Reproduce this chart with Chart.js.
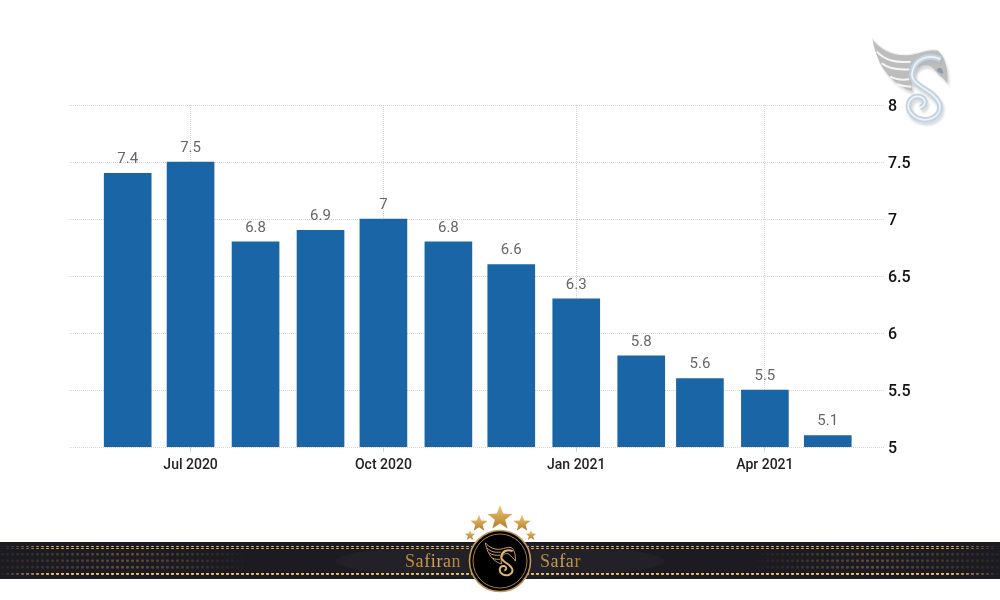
<!DOCTYPE html>
<html>
<head>
<meta charset="utf-8">
<style>
html,body{margin:0;padding:0;background:#fff;width:1000px;height:600px;overflow:hidden}
#wrap{position:relative;width:1000px;height:600px}
canvas#c{position:absolute;left:0;top:0}
svg#deco{position:absolute;left:0;top:0;pointer-events:none}
</style>
<script src="https://cdn.jsdelivr.net/npm/chart.js@4/dist/chart.umd.min.js"></script>
</head>
<body>
<div id="wrap">
<canvas id="c" width="1000" height="600"></canvas>
<svg id="deco" width="1000" height="600" viewBox="0 0 1000 600" xmlns="http://www.w3.org/2000/svg">
<defs>
<linearGradient id="fade" x1="0" x2="1" y1="0" y2="0">
<stop offset="0" stop-color="#000"/><stop offset="0.05" stop-color="#fff"/>
<stop offset="0.95" stop-color="#fff"/><stop offset="1" stop-color="#000"/>
</linearGradient>
<linearGradient id="fadeInner" x1="0" x2="1" y1="0" y2="0">
<stop offset="0" stop-color="#111"/><stop offset="0.13" stop-color="#666"/><stop offset="0.25" stop-color="#000"/>
<stop offset="0.75" stop-color="#000"/><stop offset="0.87" stop-color="#666"/><stop offset="1" stop-color="#111"/>
</linearGradient>
<mask id="mOuter"><rect x="0" y="540" width="1000" height="45" fill="url(#fade)"/></mask>
<mask id="mInner"><rect x="0" y="540" width="1000" height="45" fill="url(#fadeInner)"/></mask>
<pattern id="dots" x="0" y="0" width="5" height="4" patternUnits="userSpaceOnUse">
<rect x="1" y="0" width="3" height="3" rx="1" fill="#f2bd6b"/>
</pattern>
<pattern id="dotsIn" x="0" y="553" width="5" height="6.5" patternUnits="userSpaceOnUse">
<rect x="1" y="0" width="3" height="2.5" rx="1" fill="#d9a865"/>
</pattern>
<linearGradient id="gold" x1="0" x2="0" y1="0" y2="1">
<stop offset="0" stop-color="#f2c874"/><stop offset="1" stop-color="#b07d2c"/>
</linearGradient>
<linearGradient id="txtGold" x1="0" x2="1" y1="0" y2="0">
<stop offset="0" stop-color="#b5853c"/><stop offset="0.6" stop-color="#d8a656"/><stop offset="1" stop-color="#a87a34"/>
</linearGradient>
<filter id="soft" x="-30%" y="-30%" width="160%" height="160%"><feGaussianBlur stdDeviation="3"/></filter>
<g id="wing">
<path d="M97 55C125 90 165 108 210 103C240 99 268 84 290 90C312 100 327 150 322 192C312 170 296 168 286 152C272 132 245 130 228 150C215 168 213 195 218 214C180 205 140 170 118 125C108 102 100 78 97 55Z"/>
</g>
<g id="ess">
<path fill="none" d="M302 118C262 100 222 118 216 160C212 200 282 208 298 250C310 292 258 312 224 290C190 265 206 224 240 230C258 236 260 256 240 263"/>
</g>
</defs>

<!-- top right emblem -->
<g transform="translate(840 20) scale(.3333)">
<use href="#wing" fill="#999" opacity=".35" filter="url(#soft)" transform="translate(6 10)"/>
<use href="#wing" fill="#bdbdbd"/>
<path d="M110 95C140 125 170 128 212 125M125 130C150 150 180 150 208 148M150 170C170 180 190 180 208 178M170 192C185 198 200 200 214 200" fill="none" stroke="#f6f6f6" stroke-width="6"/>
<path d="M97 55C125 90 165 108 210 103C240 99 268 84 290 90" fill="none" stroke="#eef2f5" stroke-width="4"/>
<use href="#ess" stroke="#aab4bd" stroke-width="20" opacity=".45" filter="url(#soft)" transform="translate(4 8)"/>
<use href="#ess" stroke="#c4d3df" stroke-width="17"/>
<use href="#ess" stroke="#eef3f7" stroke-width="5"/>
<path d="M290 150C298 138 308 142 310 160C302 162 296 158 290 150Z" fill="#8e9aa3"/>
</g>

<!-- band -->
<rect x="0" y="542" width="1000" height="37" fill="#1b1b21"/>
<ellipse cx="500" cy="561" rx="165" ry="17" fill="#212127"/>
<g mask="url(#mOuter)">
<rect x="0" y="546" width="1000" height="3" fill="url(#dots)"/>
<rect x="0" y="573" width="1000" height="3" fill="url(#dots)"/>
</g>
<g mask="url(#mInner)">
<rect x="0" y="553" width="1000" height="16" fill="url(#dotsIn)"/>
</g>

<text x="405" y="566.5" font-family="Liberation Serif" font-size="18" letter-spacing=".6" fill="url(#txtGold)">Safiran</text>
<text x="540" y="566.5" font-family="Liberation Serif" font-size="18" letter-spacing=".6" fill="url(#txtGold)">Safar</text>

<!-- medallion -->
<circle cx="500" cy="561" r="30.5" fill="#000" stroke="#c4975a" stroke-width="1.6"/>
<circle cx="500" cy="561" r="27" fill="none" stroke="#a97f3f" stroke-width="1"/>
<g transform="translate(472.5 535.5) scale(.133)">
<use href="#wing" fill="none" stroke="#d9ac62" stroke-width="7"/>
<path d="M110 95C140 125 170 128 212 125M125 130C150 150 180 150 208 148M150 170C170 180 190 180 208 178" fill="none" stroke="#d9ac62" stroke-width="7"/>
<use href="#ess" stroke="#e3b66c" stroke-width="15"/>
</g>
<g id="stars"></g>
</svg>
</div>
<script>
// ----- chart data -----
const months = ['2020-06','2020-07','2020-08','2020-09','2020-10','2020-11','2020-12','2021-01','2021-02','2021-03','2021-04','2021-05'];
const values = [7.4,7.5,6.8,6.9,7,6.8,6.6,6.3,5.8,5.6,5.5,5.1];
const tickMonths = ['2020-07','2020-10','2021-01','2021-04'];
const tickNames = ['Jul 2020','Oct 2020','Jan 2021','Apr 2021'];
const yTicks = [5,5.5,6,6.5,7,7.5,8];

const DAY = 864e5;
const toX = m => Date.parse(m + '-01T00:00:00Z') / DAY;
const points = months.map((m,i) => ({x: toX(m), y: values[i]}));
const tickXs = tickMonths.map(toX);

const gridColor = '#d4d4d4';

const labelPlugin = {
  id:'barLabels',
  afterDatasetsDraw(chart){
    const {ctx} = chart;
    const meta = chart.getDatasetMeta(0);
    ctx.save();
    ctx.font = '15px Roboto';
    ctx.fillStyle = '#666';
    ctx.textAlign = 'center';
    ctx.textBaseline = 'middle';
    meta.data.forEach((el,i)=>{
      ctx.fillText(String(values[i]), el.x, el.y - 14);
    });
    ctx.restore();
  }
};

new Chart(document.getElementById('c'),{
  type:'bar',
  data:{datasets:[{
    data:points,
    backgroundColor:'#1a65a5',
    borderWidth:0,
    barThickness:47
  }]},
  plugins:[labelPlugin],
  options:{
    responsive:false,
    animation:false,
    parsing:{xAxisKey:'x',yAxisKey:'y'},
    layout:{padding:{left:69,top:105,right:0,bottom:0}},
    plugins:{legend:{display:false},tooltip:{enabled:false},title:{display:false}},
    scales:{
      x:{
        type:'linear',
        offset:false,
        min:toX('2020-05') + 3,
        max:toX('2021-05') + 27.3,
        afterBuildTicks(s){ s.ticks = tickXs.map(v=>({value:v})); },
        afterFit(s){ s.height = 153; },
        grid:{offset:false,color:gridColor,lineWidth:1,tickLength:5,tickColor:gridColor},
        border:{display:false,dash:[1,1]},
        ticks:{
          autoSkip:false,maxRotation:0,padding:5,
          color:'#222',
          font:{family:'Roboto',size:14,weight:'500'},
          callback(v){ const i = tickXs.indexOf(v); return i>=0 ? tickNames[i] : ''; }
        }
      },
      y:{
        position:'right',
        min:5,max:8,
        afterBuildTicks(s){ s.ticks = yTicks.map(v=>({value:v})); },
        afterFit(s){ s.width = 115; },
        grid:{color:gridColor,lineWidth:1,drawTicks:false},
        border:{display:false,dash:[1,1]},
        ticks:{
          padding:3,labelOffset:2,
          color:'#111',
          font:{family:'Roboto',size:16,weight:'500'},
          callback(v){ return String(v); }
        }
      }
    }
  }
});

// ----- decorative stars of the banner -----
const stars = [[500,518,13],[479,523.5,9],[522,523.5,9],[470,535.5,5.5],[531,535.5,5.5]];
document.getElementById('stars').innerHTML = stars.map(([cx,cy,r])=>{
  const p=[];
  for(let i=0;i<10;i++){
    const a=-Math.PI/2+i*Math.PI/5, q=i%2?r*.42:r;
    p.push((cx+q*Math.cos(a)).toFixed(1)+','+(cy+q*Math.sin(a)).toFixed(1));
  }
  return '<polygon points="'+p.join(' ')+'" fill="url(#gold)"/>';
}).join('');
</script>
</body>
</html>
